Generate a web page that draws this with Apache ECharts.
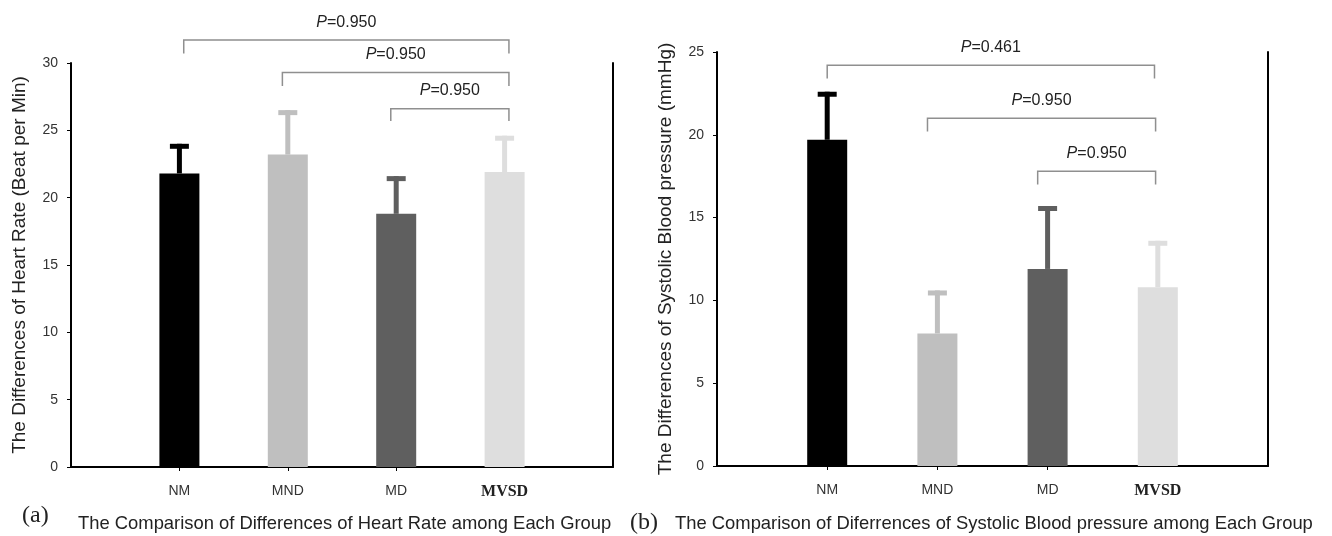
<!DOCTYPE html>
<html>
<head>
<meta charset="utf-8">
<script src="https://cdn.jsdelivr.net/npm/echarts@6/dist/echarts.min.js"></script>
<style>
html, body { margin: 0; padding: 0; background: #fff; }
#chart { width: 1332px; height: 536px; }
</style>
</head>
<body>
<div id="chart"></div>
<script>
var groups = ['NM', 'MND', 'MD', 'MVSD'];
var groupPos = [1, 2, 3, 4];
var barColors = ['#000000', '#bfbfbf', '#5f5f5f', '#dedede'];

// (a) heart rate
var hrMean = [21.8, 23.2, 18.8, 21.9];
var hrErr = [2.2, 3.3, 2.8, 2.7];
// brackets: [from, to, bar y, legs end y]
var hrBrackets = [[1.04, 4.04, 31.7, 30.7], [1.95, 4.04, 29.3, 28.3], [2.95, 4.04, 26.6, 25.7]];
var hrP = ['0.950', '0.950', '0.950'];

// (b) systolic blood pressure
var sbpMean = [19.7, 8.0, 11.9, 10.8];
var sbpErr = [2.9, 2.6, 3.8, 2.8];
var sbpBrackets = [[1.0, 3.97, 24.2, 23.4], [1.91, 3.98, 21.0, 20.2], [2.91, 3.98, 17.8, 17.0]];
var sbpP = ['0.461', '0.950', '0.950'];

var sans = "'Liberation Sans', Arial, sans-serif";
var serif = "'Liberation Serif', 'Times New Roman', serif";

var chart = echarts.init(document.getElementById('chart'));

function barData(means) {
    return means.map(function (v, i) {
        return { value: [groupPos[i], v], itemStyle: { color: barColors[i] } };
    });
}

function errData(means, errs) {
    return means.map(function (v, i) {
        return [groupPos[i], v, v + errs[i], i];
    });
}

function renderErr(params, api) {
    var x = api.value(0);
    var lo = api.coord([x, api.value(1)]);
    var hi = api.coord([x, api.value(2)]);
    var c = barColors[api.value(3)];
    return {
        type: 'group',
        children: [
            { type: 'rect', shape: { x: lo[0] - 2.5, y: hi[1], width: 5, height: lo[1] - hi[1] }, style: { fill: c } },
            { type: 'rect', shape: { x: lo[0] - 9.5, y: hi[1], width: 19, height: 5 }, style: { fill: c } }
        ]
    };
}

function makeBracketRender(pvals) {
    return function (params, api) {
        var a = api.coord([api.value(0), api.value(2)]);
        var b = api.coord([api.value(1), api.value(2)]);
        var a2 = api.coord([api.value(0), api.value(3)]);
        var b2 = api.coord([api.value(1), api.value(3)]);
        return {
            type: 'group',
            children: [
                {
                    type: 'polyline',
                    shape: { points: [a2, a, b, b2] },
                    style: { stroke: '#8f8f8f', lineWidth: 1.5, fill: null }
                },
                {
                    type: 'text',
                    x: (a[0] + b[0]) / 2,
                    y: a[1] - 18,
                    style: {
                        text: '{i|P}=' + pvals[params.dataIndex],
                        align: 'center',
                        verticalAlign: 'middle',
                        fontFamily: sans,
                        fontSize: 16,
                        fill: '#222',
                        rich: { i: { fontStyle: 'italic', fontFamily: sans, fontSize: 16, fill: '#222' } }
                    }
                }
            ]
        };
    };
}

function xAxisFor(gi) {
    return {
        type: 'value', gridIndex: gi, min: 0, max: 5, interval: 1,
        splitLine: { show: false },
        axisLine: { lineStyle: { color: '#000', width: 2 } },
        axisTick: { customValues: [1, 2, 3], length: 4, lineStyle: { color: '#000' } },
        axisLabel: {
            customValues: groupPos,
            margin: 17,
            fontFamily: sans,
            fontSize: 14,
            color: '#333',
            formatter: function (v) {
                var n = groups[v - 1];
                return n === 'MVSD' ? '{s|' + n + '}' : n;
            },
            rich: { s: { fontFamily: serif, fontWeight: 'bold', fontSize: 16, color: '#222' } }
        }
    };
}

function yAxisFor(gi, max, name) {
    return {
        type: 'value', gridIndex: gi, min: 0, max: max, interval: 5,
        splitLine: { show: false },
        axisLine: { show: true, lineStyle: { color: '#000', width: 2 } },
        axisTick: { show: true, length: 4, lineStyle: { color: '#000' } },
        axisLabel: { margin: 13, fontFamily: sans, fontSize: 14, color: '#333' },
        name: name,
        nameLocation: 'middle',
        nameGap: 42,
        nameTextStyle: { fontFamily: sans, fontSize: 19, color: '#222' }
    };
}

function borderFor(gi, max) {
    return {
        type: 'value', gridIndex: gi, position: 'right', min: 0, max: max,
        splitLine: { show: false },
        axisLine: { show: true, lineStyle: { color: '#000', width: 2 } },
        axisTick: { show: false },
        axisLabel: { show: false }
    };
}

var option = {
    backgroundColor: '#fff',
    animation: false,
    title: [
        { text: '(a)', left: 22, top: 504, padding: 0, textStyle: { fontFamily: serif, fontSize: 24, fontWeight: 'normal', color: '#222' } },
        { text: 'The Comparison of Differences of Heart Rate among Each Group', left: 78, top: 515, padding: 0,
          textStyle: { fontFamily: sans, fontSize: 18.4, fontWeight: 'normal', color: '#222' } },
        { text: '(b)', left: 630, top: 511, padding: 0, textStyle: { fontFamily: serif, fontSize: 24, fontWeight: 'normal', color: '#222' } },
        { text: 'The Comparison of Diferrences of Systolic Blood pressure among Each Group', left: 675, top: 515, padding: 0,
          textStyle: { fontFamily: sans, fontSize: 18.4, fontWeight: 'normal', color: '#222' } }
    ],
    grid: [
        { left: 71, top: 63, width: 542, height: 404, outerBoundsMode: 'none' },
        { left: 717, top: 52, width: 551, height: 414, outerBoundsMode: 'none' }
    ],
    xAxis: [xAxisFor(0), xAxisFor(1)],
    yAxis: [
        yAxisFor(0, 30, 'The Differences of Heart Rate (Beat per Min)'),
        borderFor(0, 30),
        yAxisFor(1, 25, 'The Differences of Systolic Blood pressure (mmHg)'),
        borderFor(1, 25)
    ],
    series: [
        { type: 'bar', xAxisIndex: 0, yAxisIndex: 0, barWidth: 40, data: barData(hrMean) },
        { type: 'custom', xAxisIndex: 0, yAxisIndex: 0, renderItem: renderErr, data: errData(hrMean, hrErr), z: 3 },
        { type: 'custom', xAxisIndex: 0, yAxisIndex: 0, clip: false, renderItem: makeBracketRender(hrP), data: hrBrackets, z: 4 },
        { type: 'bar', xAxisIndex: 1, yAxisIndex: 2, barWidth: 40, data: barData(sbpMean) },
        { type: 'custom', xAxisIndex: 1, yAxisIndex: 2, renderItem: renderErr, data: errData(sbpMean, sbpErr), z: 3 },
        { type: 'custom', xAxisIndex: 1, yAxisIndex: 2, clip: false, renderItem: makeBracketRender(sbpP), data: sbpBrackets, z: 4 }
    ]
};

chart.setOption(option);
</script>
</body>
</html>
